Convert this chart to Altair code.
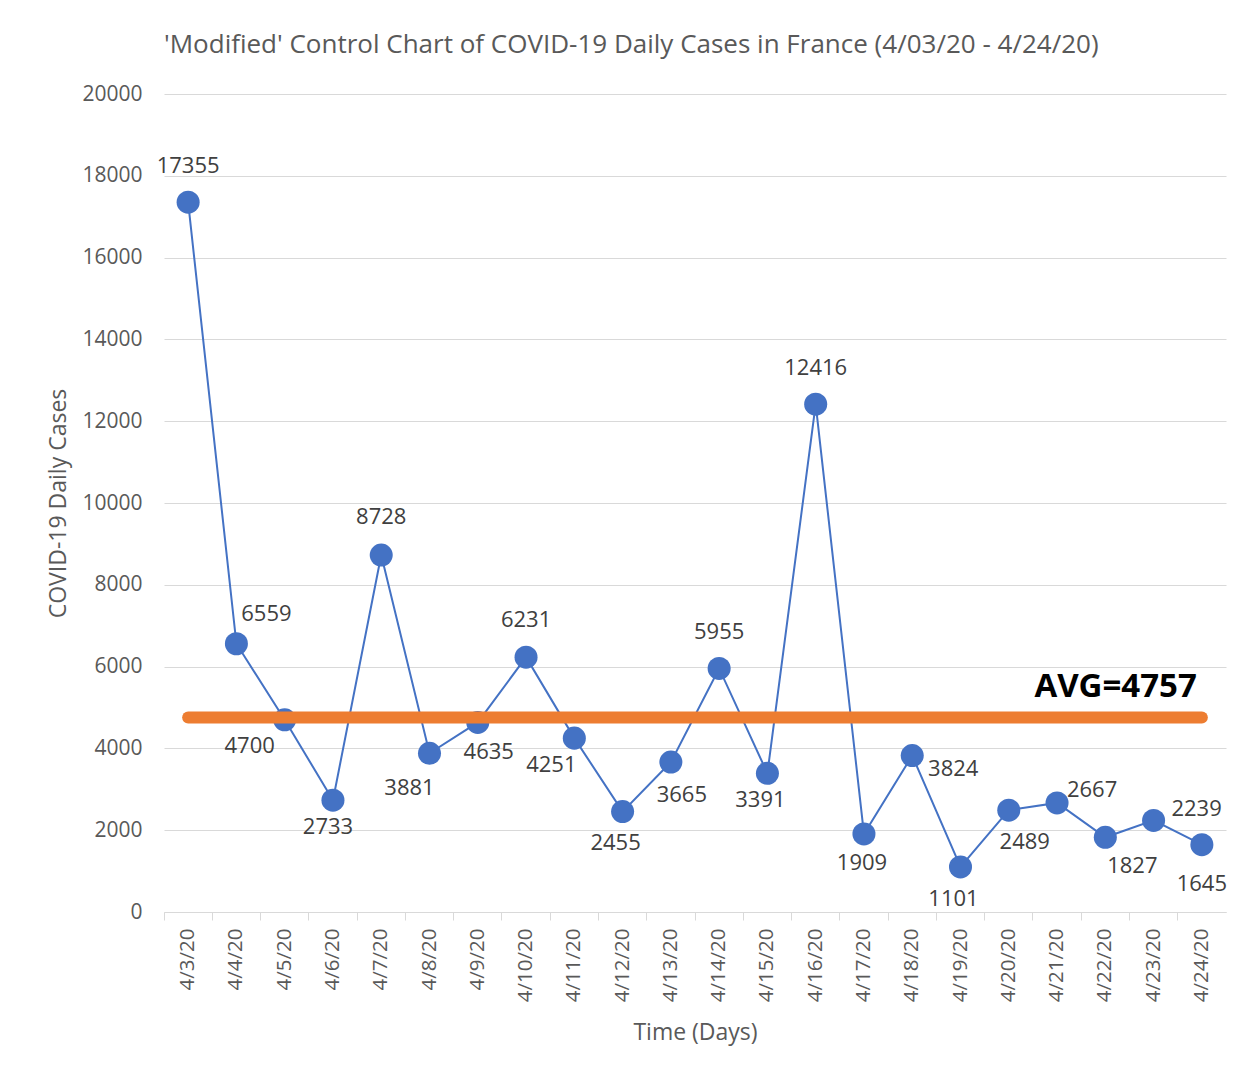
import altair as alt
import pandas as pd

dates = ["4/3/20", "4/4/20", "4/5/20", "4/6/20", "4/7/20", "4/8/20", "4/9/20",
         "4/10/20", "4/11/20", "4/12/20", "4/13/20", "4/14/20", "4/15/20",
         "4/16/20", "4/17/20", "4/18/20", "4/19/20", "4/20/20", "4/21/20",
         "4/22/20", "4/23/20", "4/24/20"]
cases = [17355, 6559, 4700, 2733, 8728, 3881, 4635, 6231, 4251, 2455, 3665,
         5955, 3391, 12416, 1909, 3824, 1101, 2489, 2667, 1827, 2239, 1645]
average = 4757
y_ticks = list(range(0, 20001, 2000))

# label placement offsets (pixels) relative to each point, as in the original
label_dx = [0, 30, -35, -5, 0, -20, 11, 0, -23, -7, 11, 0, -7, 0, -2, 41, -7, 16, 35, 27, 43, 0]
label_dy = [-36, -30, 26, 27, -38, 35, 30, -37, 27, 31, 33, -36, 27, -36, 29, 13, 32, 32, -13, 29, -11, 39]

df = pd.DataFrame({"date": dates, "cases": cases, "dx": label_dx, "dy": label_dy,
                   "avg": [average] * len(dates)})

FONT = "Open Sans"
BLUE = "#4472C4"
ORANGE = "#ED7D31"
W, H = 1062, 818
YMAX = 20000
half_band = W / len(dates) / 2

x_scale = alt.Scale(domain=dates, paddingInner=0, paddingOuter=0)
x_enc = alt.X("date:N", scale=x_scale, sort=dates,
              axis=alt.Axis(title="Time (Days)", labelAngle=-90, labelAlign="right",
                            labelBaseline="middle", labelPadding=8, tickSize=8,
                            tickColor="#D9D9D9", domainColor="#D9D9D9", bandPosition=0,
                            labelFontSize=20.5, labelColor="#595959", titleFontSize=23,
                            titleColor="#595959", titleFontWeight="normal",
                            titlePadding=20, labelFont=FONT, titleFont=FONT, grid=False))
x_plain = alt.X("date:N", scale=x_scale, sort=dates)
y_scale = alt.Scale(domain=[0, YMAX], nice=False)
y_enc = alt.Y("cases:Q", scale=y_scale,
              axis=alt.Axis(title="COVID-19 Daily Cases", values=y_ticks, tickSize=0,
                            domain=False, labelPadding=22, gridColor="#D9D9D9",
                            format="d",
                            labelFontSize=21, labelColor="#595959", titleFontSize=23,
                            titleColor="#595959", titleFontWeight="normal",
                            titlePadding=11, labelFont=FONT, titleFont=FONT))

base = alt.Chart(df)

line = base.mark_line(color=BLUE, strokeWidth=2).encode(x=x_enc, y=y_enc)
points = base.mark_circle(color=BLUE, size=530, opacity=1).encode(
    x=x_plain, y=alt.Y("cases:Q", scale=y_scale))
labels = base.transform_calculate(
    label_y=f"datum.cases - datum.dy * {YMAX} / {H}"
).mark_text(font=FONT, fontSize=22, color="#404040", align="center",
            baseline="middle", dx=half_band).encode(
    x=x_plain,
    y=alt.Y("label_y:Q", scale=y_scale),
    xOffset=alt.XOffset("dx:Q", scale=None),
    text="cases:Q")
avg_line = base.mark_line(color=ORANGE, strokeWidth=12, strokeCap="round").encode(
    x=x_plain, y=alt.Y("avg:Q", scale=y_scale))
avg_text = alt.Chart(pd.DataFrame({"date": [dates[-1]], "avg": [average],
                                   "label": [f"AVG={average}"]})).mark_text(
    font=FONT, fontSize=33, fontWeight="bold", color="#000000", align="right",
    baseline="middle", dx=-5, dy=-30).encode(
    x=x_plain, y=alt.Y("avg:Q", scale=y_scale), text="label:N")

chart = alt.layer(line, points, labels, avg_line, avg_text).properties(
    width=W, height=H,
    background="white",
    autosize=alt.AutoSizeParams(type="none"),
    padding={"left": 156, "top": 86, "right": 7, "bottom": 154},
    title=alt.TitleParams("'Modified' Control Chart of COVID-19 Daily Cases in France (4/03/20 - 4/24/20)",
                          anchor="start", frame="group", font=FONT, fontSize=26,
                          fontWeight="normal", color="#595959", offset=25),
).configure_view(strokeWidth=0)

chart.save("out.html", embed_options={"renderer": "svg", "actions": False})
